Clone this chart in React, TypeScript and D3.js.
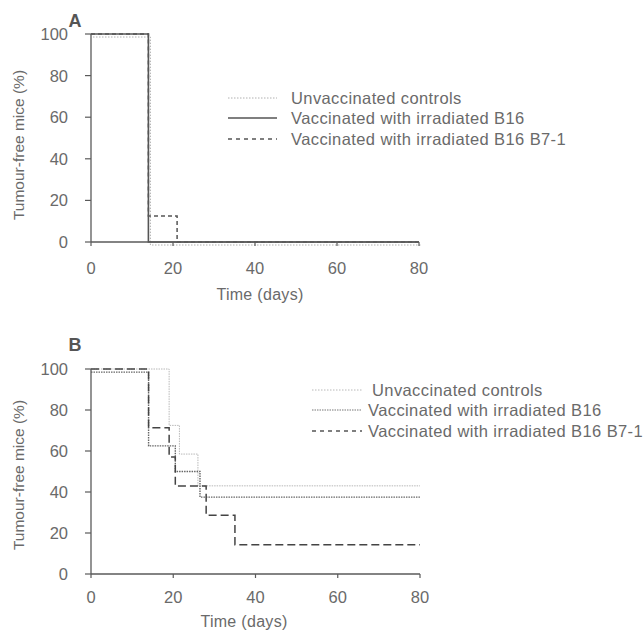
import React from "react";
import * as d3 from "d3";

// ---------- data ----------
const xTicks = [0, 20, 40, 60, 80];
const yTicks = [0, 20, 40, 60, 80, 100];
const seriesNames = [
  "Unvaccinated controls",
  "Vaccinated with irradiated B16",
  "Vaccinated with irradiated B16 B7-1",
];

// Panel A (days, % tumour-free)
const aUnvacDays = [0, 14, 80];
const aUnvacVals = [100, 0, 0];
const aB16Days = [0, 14, 80];
const aB16Vals = [100, 0, 0];
const aB71Days = [0, 14, 21, 80];
const aB71Vals = [100, 12.5, 0, 0];

// Panel B
const bUnvacDays = [0, 19, 21.5, 26, 80];
const bUnvacVals = [100, 72.5, 58.5, 43, 43];
const bB16Days = [0, 14, 20.5, 26.5, 80];
const bB16Vals = [98.5, 62.5, 50, 37.5, 37.5];
const bB71Days = [0, 14, 19, 20.5, 28, 35, 80];
const bB71Vals = [100, 71.4, 57.1, 42.9, 28.6, 14.3, 14.3];

const FONT = "'Liberation Sans', Arial, Helvetica, sans-serif";
const TEXT = "#6a6a6a";
const AXIS = "#5a5a5a";

type Style = { stroke: string; width: number; dash?: string; dx?: number; dy?: number };

function zip(days: number[], vals: number[]) {
  return days.map((d, i) => ({ d, v: vals[i] }));
}

function Panel(props: {
  label: string;
  labelY: number;
  xRange: [number, number];
  yRange: [number, number];
  tickLabelY: number;
  xTitle: [number, number];
  yTitleY: number;
  series: { days: number[]; vals: number[]; style: Style }[];
  legend: { x1: number; x2: number; tx: number[]; ys: number[]; styles: Style[] };
}) {
  const x = d3.scaleLinear().domain([0, 80]).range(props.xRange);
  const y = d3.scaleLinear().domain([0, 100]).range(props.yRange);
  const line = d3
    .line<{ d: number; v: number }>()
    .x((p) => x(p.d))
    .y((p) => y(p.v))
    .curve(d3.curveStepAfter);
  const x0 = x(0);
  const y0 = y(0);
  return (
    <g>
      <text x={75} y={props.labelY} textAnchor="middle" dominantBaseline="central" fontFamily={FONT} fontWeight="bold" fontSize={18} fill="#555">
        {props.label}
      </text>
      {props.series.map((s, i) => (
        <path
          key={i}
          d={line(zip(s.days, s.vals)) || ""}
          fill="none"
          stroke={s.style.stroke}
          strokeWidth={s.style.width}
          strokeDasharray={s.style.dash}
          transform={`translate(${s.style.dx || 0},${s.style.dy || 0})`}
        />
      ))}
      <line x1={x0} x2={x0} y1={y(0)} y2={y(100)} stroke={AXIS} strokeWidth={1.3} />
      {yTicks.map((t) => (
        <g key={t}>
          <line x1={x0 - 6} x2={x0} y1={y(t)} y2={y(t)} stroke={AXIS} strokeWidth={1.2} />
          <text x={68} y={y(t)} textAnchor="end" dominantBaseline="central" fontFamily={FONT} fontSize={16.5} fill={TEXT}>
            {t}
          </text>
        </g>
      ))}
      <line x1={x0} x2={x(80)} y1={y0} y2={y0} stroke={AXIS} strokeWidth={1.6} />
      {xTicks.map((t) => (
        <g key={t}>
          <line x1={x(t)} x2={x(t)} y1={y0} y2={y0 + 4} stroke={AXIS} strokeWidth={1.2} />
          <text x={x(t)} y={props.tickLabelY} textAnchor="middle" dominantBaseline="central" fontFamily={FONT} fontSize={16.5} fill={TEXT}>
            {t}
          </text>
        </g>
      ))}
      <text x={props.xTitle[0]} y={props.xTitle[1]} textAnchor="middle" dominantBaseline="central" fontFamily={FONT} fontSize={16} letterSpacing={0.3} fill={TEXT}>
        Time (days)
      </text>
      <text
        transform={`translate(18,${props.yTitleY}) rotate(-90)`}
        textAnchor="middle"
        dominantBaseline="central"
        fontFamily={FONT}
        fontSize={15.5}
        fill={TEXT}
      >
        Tumour-free mice (%)
      </text>
      {seriesNames.map((n, i) => (
        <g key={n}>
          <line
            x1={props.legend.x1}
            x2={props.legend.x2}
            y1={props.legend.ys[i]}
            y2={props.legend.ys[i]}
            stroke={props.legend.styles[i].stroke}
            strokeWidth={props.legend.styles[i].width}
            strokeDasharray={props.legend.styles[i].dash}
          />
          <text x={props.legend.tx[i]} y={props.legend.ys[i]} dominantBaseline="central" fontFamily={FONT} fontSize={16.5} letterSpacing={0.4} fill={TEXT}>
            {n}
          </text>
        </g>
      ))}
    </g>
  );
}

export default function App() {
  const aUnvac: Style = { stroke: "#b0b0b0", width: 1, dash: "1.5,1.5", dx: 2, dy: 3 };
  const aB16: Style = { stroke: "#555", width: 1.6 };
  const aB71: Style = { stroke: "#555", width: 1.5, dash: "4,3" };
  const bUnvac: Style = { stroke: "#b8b8b8", width: 1, dash: "1.5,1" };
  const bB16: Style = { stroke: "#666", width: 1.4, dash: "1.5,1" };
  const bB71: Style = { stroke: "#444", width: 1.5, dash: "8,4" };
  return (
    <svg width={643} height={630} style={{ position: "absolute", left: 0, top: 0, background: "#fff" }}>
      <Panel
        label="A"
        labelY={21}
        xRange={[91, 419]}
        yRange={[242, 34]}
        tickLabelY={268}
        xTitle={[260, 294]}
        yTitleY={145}
        series={[
          { days: aUnvacDays, vals: aUnvacVals, style: aUnvac },
          { days: aB16Days, vals: aB16Vals, style: aB16 },
          { days: aB71Days, vals: aB71Vals, style: aB71 },
        ]}
        legend={{
          x1: 228,
          x2: 277,
          tx: [291, 291, 291],
          ys: [98, 118, 139],
          styles: [
            { stroke: "#b0b0b0", width: 1, dash: "1.5,1.5" },
            { stroke: "#555", width: 1.5 },
            { stroke: "#555", width: 1.3, dash: "4,4" },
          ],
        }}
      />
      <Panel
        label="B"
        labelY={345}
        xRange={[91, 420]}
        yRange={[574, 369]}
        tickLabelY={597}
        xTitle={[244, 621]}
        yTitleY={475}
        series={[
          { days: bUnvacDays, vals: bUnvacVals, style: bUnvac },
          { days: bB16Days, vals: bB16Vals, style: bB16 },
          { days: bB71Days, vals: bB71Vals, style: bB71 },
        ]}
        legend={{
          x1: 312,
          x2: 362,
          tx: [372, 368, 368],
          ys: [390, 410, 431],
          styles: [
            { stroke: "#b8b8b8", width: 1, dash: "1.5,1.5" },
            { stroke: "#777", width: 1.2, dash: "1.5,1" },
            { stroke: "#555", width: 1.3, dash: "4,4" },
          ],
        }}
      />
    </svg>
  );
}
